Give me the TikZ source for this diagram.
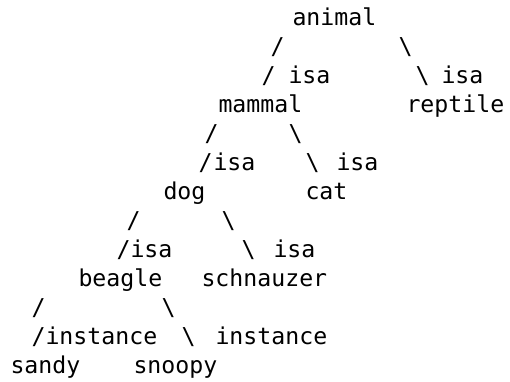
\documentclass[tikz,border=0pt]{standalone}
\usepackage{fontspec}
\setmonofont{DejaVu Sans Mono}
\begin{document}
\begin{tikzpicture}[x=1pt,y=-1pt,
  txt/.style={anchor=base west, inner sep=0pt, outer sep=0pt, text=black,
    font=\ttfamily\fontsize{23.2pt}{29pt}\selectfont}]
\useasboundingbox (0,0) rectangle (510,381);
% line 1
\node[txt] (animal) at (292.5,25) {animal};
% line 2
\node[txt] (s1) at (270.5,54) {/};
\node[txt] (b1) at (398.5,54) {\textbackslash};
% line 3
\node[txt] (s2) at (261.5,83) {/};
\node[txt] (isa1) at (288.5,83) {isa};
\node[txt] (b2) at (415.5,83) {\textbackslash};
\node[txt] (isa2) at (441.5,83) {isa};
% line 4
\node[txt] (mammal) at (218.5,112) {mammal};
\node[txt] (reptile) at (406.5,112) {reptile};
% line 5
\node[txt] (s3) at (204.5,141) {/};
\node[txt] (b3) at (288.5,141) {\textbackslash};
% line 6
\node[txt] (s4) at (198.5,170) {/};
\node[txt] (isa3) at (213.5,170) {isa};
\node[txt] (b4) at (305.5,170) {\textbackslash};
\node[txt] (isa4) at (336.5,170) {isa};
% line 7
\node[txt] (dog) at (163.5,199) {dog};
\node[txt] (cat) at (305.5,199) {cat};
% line 8
\node[txt] (s5) at (126.5,228) {/};
\node[txt] (b5) at (221.5,228) {\textbackslash};
% line 9
\node[txt] (s6) at (116.5,257) {/};
\node[txt] (isa5) at (130.5,257) {isa};
\node[txt] (b6) at (241.5,257) {\textbackslash};
\node[txt] (isa6) at (273.5,257) {isa};
% line 10
\node[txt] (beagle) at (78.5,286) {beagle};
\node[txt] (schnauzer) at (201.5,286) {schnauzer};
% line 11
\node[txt] (s7) at (31.5,315) {/};
\node[txt] (b7) at (161.5,315) {\textbackslash};
% line 12
\node[txt] (s8) at (31.5,344) {/};
\node[txt] (inst1) at (45.5,344) {instance};
\node[txt] (b8) at (181.5,344) {\textbackslash};
\node[txt] (inst2) at (215.5,344) {instance};
% line 13
\node[txt] (sandy) at (10.5,373) {sandy};
\node[txt] (snoopy) at (133.5,373) {snoopy};
\end{tikzpicture}
\end{document}
